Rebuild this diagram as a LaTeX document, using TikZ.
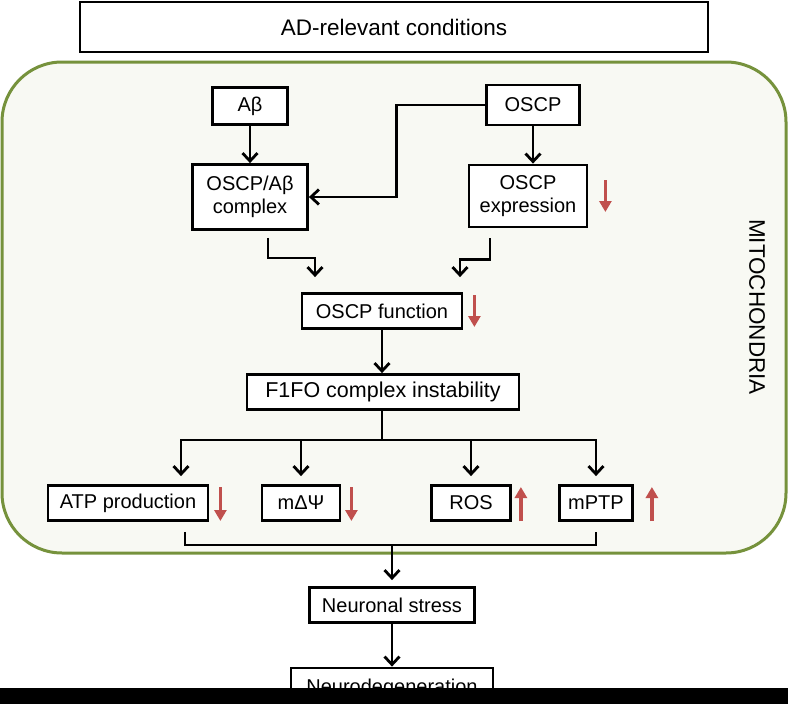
\documentclass[tikz,border=0pt]{standalone}
\usepackage{fontspec}
\setmainfont{Liberation Sans}
\usetikzlibrary{arrows.meta, positioning, calc}

\definecolor{mitoline}{HTML}{76923C}
\definecolor{mitofill}{HTML}{F8F9F3}
\definecolor{changered}{HTML}{C0504D}

\begin{document}
\begin{tikzpicture}[
    x=1pt, y=-1pt,
    font=\fontsize{20}{23}\selectfont,
    factor/.style={
        draw,
        line width=2.8pt,
        fill=white,
        align=center,
        inner sep=2pt,
        minimum height=35pt
    },
    line/.style={line width=2.8pt},
    link/.style={line width=2.8pt, -{Straight Barb[length=8pt,width=15pt]}},
    fall/.style={line width=3.8pt, changered, -{Triangle[length=11pt,width=12pt]}},
    rise/.style={fall}
]
    \useasboundingbox (0,0) rectangle (788,704);
    \fill[white] (0,0) rectangle (788,704);

    % mitochondria compartment
    \draw[mitoline, fill=mitofill, line width=3pt, rounded corners=60pt] (2,62) rectangle (786,553);
    \node[rotate=-90, font=\fontsize{22.5}{26}\selectfont] (mito) at (757,307) {MITOCHONDRIA};

    \node[factor, minimum width=628pt, minimum height=50pt, font=\fontsize{22.5}{26}\selectfont] (adcond) at (394,27) {AD-relevant conditions};

    \node[factor, minimum width=75pt, minimum height=37pt] (abeta) at (250,106) {Aβ};
    \node[factor, minimum width=93pt, minimum height=40pt] (oscp) at (533,105) {OSCP};
    \node[factor, minimum width=115pt, minimum height=65pt] (complex) at (250,197) {OSCP/Aβ\\complex};
    \node[factor, minimum width=118pt, minimum height=62pt] (expression) at (528,196) {OSCP\\expression};
    \node[factor, minimum width=160pt] (function) at (382,311) {OSCP function};
    \node[factor, minimum width=272pt, font=\fontsize{21.5}{25}\selectfont] (f1fo) at (383,392) {F1FO complex instability};

    \node[factor, minimum width=160pt] (atp) at (128,503) {ATP production};
    \node[factor, minimum width=78pt] (mdp) at (301,503) {mΔΨ};
    \node[factor, minimum width=79pt] (ros) at (471,503) {ROS};
    \node[factor, minimum width=73pt] (mptp) at (596,503) {mPTP};

    \node[factor, minimum width=165pt] (stress) at (392,605) {Neuronal stress};
    \node[factor, minimum width=202pt, minimum height=40pt] (neuro) at (392,688) {Neurodegeneration};

    % upper part
    \draw[link] (abeta) -- (complex);
    \draw[link] (oscp.south) -- (oscp.south |- expression.north);
    \draw[link] (oscp.west) -- ++(-89,0) |- (complex.east);
    \draw[link] ([xshift=18pt,yshift=-7pt]complex.south) -- ++(0,20) -| ([xshift=-67pt,yshift=15pt]function.north);
    \draw[link] ([xshift=-38pt,yshift=-10pt]expression.south) -- ++(0,21) -| ([xshift=78pt,yshift=15pt]function.north);
    \draw[link] (function) -- (function |- f1fo.north);

    % split to the four readouts
    \coordinate (split) at (382,440);
    \draw[line] (split |- f1fo.south) -- (split);
    \draw[link] (split) -| ([xshift=53pt,yshift=8pt]atp.north);
    \draw[link] (split) -| ([yshift=8pt]mptp.north);
    \draw[link] (split -| mdp.north) -- ([yshift=8pt]mdp.north);
    \draw[link] (split -| ros.north) -- ([yshift=8pt]ros.north);

    % join to neuronal stress
    \coordinate (join) at (392,545);
    \draw[line] ([xshift=57pt,yshift=-10pt]atp.south) |- (join) -| ([yshift=-10pt]mptp.south);
    \draw[link] (join) -- ([yshift=6pt]stress.north);
    \draw[link] (stress) -- (neuro);

    % up and down changes
    \draw[fall] ([xshift=17pt,yshift=16pt]expression.east) -- ++(0,32);
    \draw[fall] ([xshift=11pt,yshift=16pt]function.east) -- ++(0,32);
    \draw[fall] ([xshift=11pt,yshift=16pt]atp.east) -- ++(0,34);
    \draw[fall] ([xshift=10pt,yshift=16pt]mdp.east) -- ++(0,34);
    \draw[rise] ([xshift=9pt,yshift=-18pt]ros.east) -- ++(0,-34);
    \draw[rise] ([xshift=18pt,yshift=-18pt]mptp.east) -- ++(0,-34);

    \fill[black] (0,688) rectangle (788,704);
\end{tikzpicture}
\end{document}
